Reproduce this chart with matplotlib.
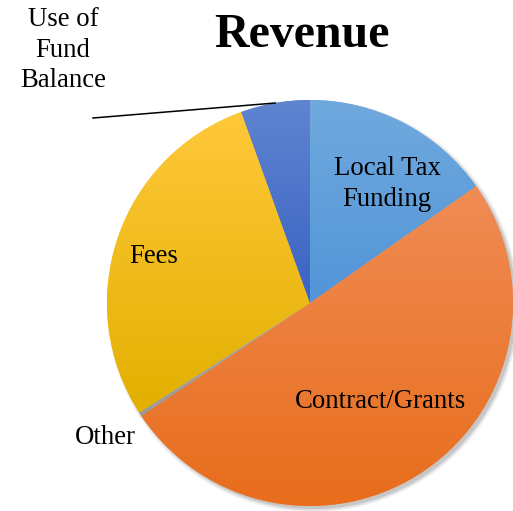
import numpy as np
import matplotlib
matplotlib.use("Agg")
import matplotlib.pyplot as plt
from matplotlib.patches import Circle
from matplotlib.colors import LinearSegmentedColormap

categories = ["Local Tax Funding", "Contract/Grants", "Other", "Fees", "Use of Fund Balance"]
values = [15.25, 50.4, 0.3, 28.6, 5.5]
top_colors = ["#70a9de", "#f08c55", "#a8a8a8", "#ffc83a", "#5f84d0"]
bottom_colors = ["#5295d8", "#e86d1c", "#9a9a9a", "#e2b000", "#3a63c3"]
title = "Revenue"

W, H = 513, 511
fig = plt.figure(figsize=(W / 100, H / 100), dpi=100)
ax = fig.add_axes([0, 0, 1, 1])
ax.set_xlim(0, W)
ax.set_ylim(0, H)
ax.set_aspect("equal")
ax.axis("off")

cx, cy, R = 310, 208, 203

# soft shadow
for dr, a in [(3, 0.06), (1.5, 0.08), (0, 0.10)]:
    ax.add_patch(Circle((cx + 3, cy - 3), R + dr, color="black", alpha=a, lw=0, zorder=0))

wedges, _ = ax.pie(values, startangle=90, counterclock=False, center=(cx, cy),
                   radius=R, colors=top_colors, frame=True,
                   wedgeprops=dict(linewidth=0))
ax.set_xlim(0, W)
ax.set_ylim(0, H)
ax.axis("off")

grad = np.linspace(0, 1, 256).reshape(-1, 1)
for w, c0, c1 in zip(wedges, top_colors, bottom_colors):
    ext = w.get_path().get_extents()
    cmap = LinearSegmentedColormap.from_list("g", [c1, c0])
    im = ax.imshow(grad, cmap=cmap, origin="lower", aspect="auto",
                   extent=(ext.x0, ext.x1, ext.y0, ext.y1), zorder=2,
                   interpolation="bilinear")
    im.set_clip_path(w)
ax.set_xlim(0, W)
ax.set_ylim(0, H)

serif = ["Liberation Serif", "DejaVu Serif"]
fs = 19.3
ax.text(387, H - 184, "Local Tax\nFunding", ha="center", va="center", fontsize=fs,
        family=serif, linespacing=1.3, zorder=5)
ax.text(381, H - 401, "Contract/Grants", ha="center", va="center", fontsize=fs,
        family=serif, zorder=5)
ax.text(154, H - 256, "Fees", ha="center", va="center", fontsize=fs,
        family=serif, zorder=5)
ax.text(105, H - 437, "Other", ha="center", va="center", fontsize=fs,
        family=serif, zorder=5)
ax.text(63, H - 50, "Use of\nFund\nBalance", ha="center", va="center", fontsize=fs,
        family=serif, linespacing=1.3, zorder=5)

# leader line for Use of Fund Balance
w = wedges[4]
mid = np.deg2rad((w.theta1 + w.theta2) / 2)
ex, ey = cx + R * np.cos(mid), cy + R * np.sin(mid)
ax.plot([93, ex], [H - 118, ey], color="black", lw=1.1, zorder=6)

ax.text(302, H - 47, title, ha="center", va="baseline", fontsize=34.5,
        fontweight="bold", family=serif)

fig.savefig("out.png", dpi=100)
